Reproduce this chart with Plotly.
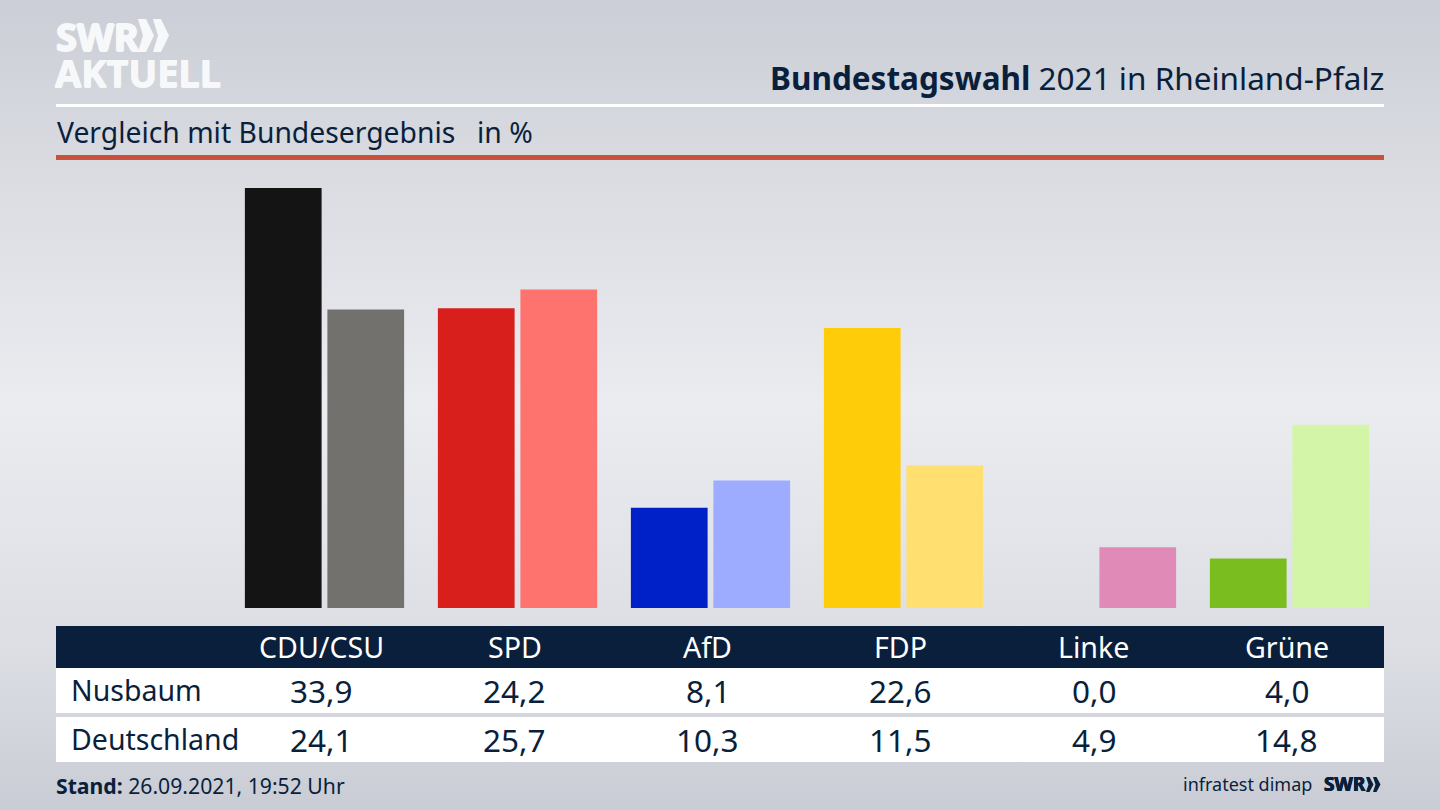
import urllib.parse
import plotly.graph_objects as go

parties = ["CDU/CSU", "SPD", "AfD", "FDP", "Linke", "Grüne"]
nusbaum = [33.9, 24.2, 8.1, 22.6, 0.0, 4.0]
deutschland = [24.1, 25.7, 10.3, 11.5, 4.9, 14.8]
row_names = ["Nusbaum", "Deutschland"]
colors_nusbaum = ["#141414", "#d91f1c", "#0020c8", "#ffcc0a", "#c0407f", "#7abd1e"]
colors_deutschland = ["#73716e", "#ff736e", "#9dacff", "#ffdf70", "#e08ab8", "#d3f5a8"]

W, H = 1440, 810
NAVY = "#0a1f3c"
LOGO = "#f7f8fa"
FONT = "Noto Sans"


def px(x):
    return x / W


def py(y):
    return 1 - y / H


def rect(x0, y0, x1, y1, color):
    return dict(type="rect", xref="paper", yref="paper", x0=px(x0), x1=px(x1), y0=py(y0), y1=py(y1),
                fillcolor=color, line_width=0, layer="below")


def poly(points, color):
    d = "M" + " L".join(f"{px(x):.5f},{py(y):.5f}" for x, y in points) + " Z"
    return dict(type="path", xref="paper", yref="paper", path=d, fillcolor=color, line_width=0)


def chevrons(x, y0, y1, w, tip, notch, step, color):
    mid = (y0 + y1) / 2
    out = []
    for i in range(2):
        a = x + i * step
        out.append(poly([(a, y0), (a + w, y0), (a + w + tip, mid), (a + w, y1), (a, y1), (a + notch, mid)], color))
    return out


def text(s, x, y, size, color=NAVY, anchor="left", weight=None, shadow=None):
    font = dict(family=FONT, size=size, color=color, weight=weight)
    if shadow:
        font["shadow"] = shadow
    return dict(text=s, xref="paper", yref="paper", x=px(x), y=py(y), xanchor=anchor, yanchor="middle",
                showarrow=False, font=font, borderpad=0, borderwidth=0)


def thick(c, d):
    return f"{d}px 0 0 {c}, -{d}px 0 0 {c}, 0 {d}px 0 {c}, 0 -{d}px 0 {c}"


svg = (f'<svg xmlns="http://www.w3.org/2000/svg" width="{W}" height="{H}">'
       '<defs><linearGradient id="g" x1="0" y1="0" x2="0" y2="1">'
       '<stop offset="0" stop-color="#cbced6"/><stop offset="0.2" stop-color="#d9dbe1"/>'
       '<stop offset="0.5" stop-color="#ebecf0"/><stop offset="0.8" stop-color="#dcdee4"/>'
       '<stop offset="1" stop-color="#c9ccd4"/></linearGradient></defs>'
       f'<rect width="{W}" height="{H}" fill="url(#g)"/></svg>')
bg_uri = "data:image/svg+xml," + urllib.parse.quote(svg)

fig = go.Figure()
fig.add_bar(name=row_names[0], x=parties, y=nusbaum, marker=dict(color=colors_nusbaum, line_width=0))
fig.add_bar(name=row_names[1], x=parties, y=deutschland, marker=dict(color=colors_deutschland, line_width=0))

shapes = [
    rect(56, 104, 1384, 107, "#ffffff"),
    rect(56, 155, 1384, 160, "#c8503c"),
    rect(56, 626, 1384, 668, NAVY),
    rect(56, 668, 1384, 713, "#ffffff"),
    rect(56, 717, 1384, 762, "#ffffff"),
]
shapes += chevrons(138, 19, 52, 8, 8, 5, 15, LOGO)
shapes += chevrons(1366, 777, 792, 3.5, 4, 2.5, 7, NAVY)

annotations = [
    text("SWR", 56, 36, 38, LOGO, weight=700, shadow=thick(LOGO, 1)),
    text("AKTUELL", 55, 72, 38, LOGO, weight=700, shadow=thick(LOGO, 0.5)),
    text("<b>Bundestagswahl</b> 2021 in Rheinland-Pfalz", 1384, 77.5, 31.5, anchor="right"),
    text("Vergleich mit Bundesergebnis", 57, 132, 28.3),
    text("in %", 477, 132, 28.3),
    text("<b>Stand:</b> 26.09.2021, 19:52 Uhr", 56, 785, 21.2),
    text("infratest dimap", 1312, 784, 18, anchor="right"),
    text("SWR", 1324, 784, 19, NAVY, weight=700, shadow=thick(NAVY, 0.4)),
]
row_y = [690, 739]
for name, yy in zip(row_names, row_y):
    annotations.append(text(name, 70.5, yy, 28.5))
for i, party in enumerate(parties):
    for label, yy, size, color in [
        (party, 646, 28.6, "#ffffff"),
        (f"{nusbaum[i]:.1f}".replace(".", ","), row_y[0], 31.5, NAVY),
        (f"{deutschland[i]:.1f}".replace(".", ","), row_y[1], 31.5, NAVY),
    ]:
        a = text(label, 0, yy, size, color, anchor="center")
        a.update(xref="x", x=party, xshift=-3)
        annotations.append(a)

fig.update_layout(
    width=W, height=H, margin=dict(l=0, r=0, t=0, b=0), autosize=False,
    paper_bgcolor="rgba(0,0,0,0)", plot_bgcolor="rgba(0,0,0,0)",
    barmode="group", bargap=0.145, bargroupgap=0.07, showlegend=False,
    images=[dict(source=bg_uri, xref="paper", yref="paper", x=0, y=1, sizex=1, sizey=1,
                 sizing="stretch", xanchor="left", yanchor="top", layer="below")],
    shapes=shapes, annotations=annotations,
    xaxis=dict(domain=[px(228), px(1386)], visible=False, type="category", range=[-0.5, 5.5]),
    yaxis=dict(domain=[py(608), py(160)], visible=False, range=[0, 448 / 12.39]),
    font=dict(family=FONT),
)

fig.write_html("out.html", config=dict(displayModeBar=False),
               post_script="document.body.style.margin='0';document.body.style.overflow='hidden';")
